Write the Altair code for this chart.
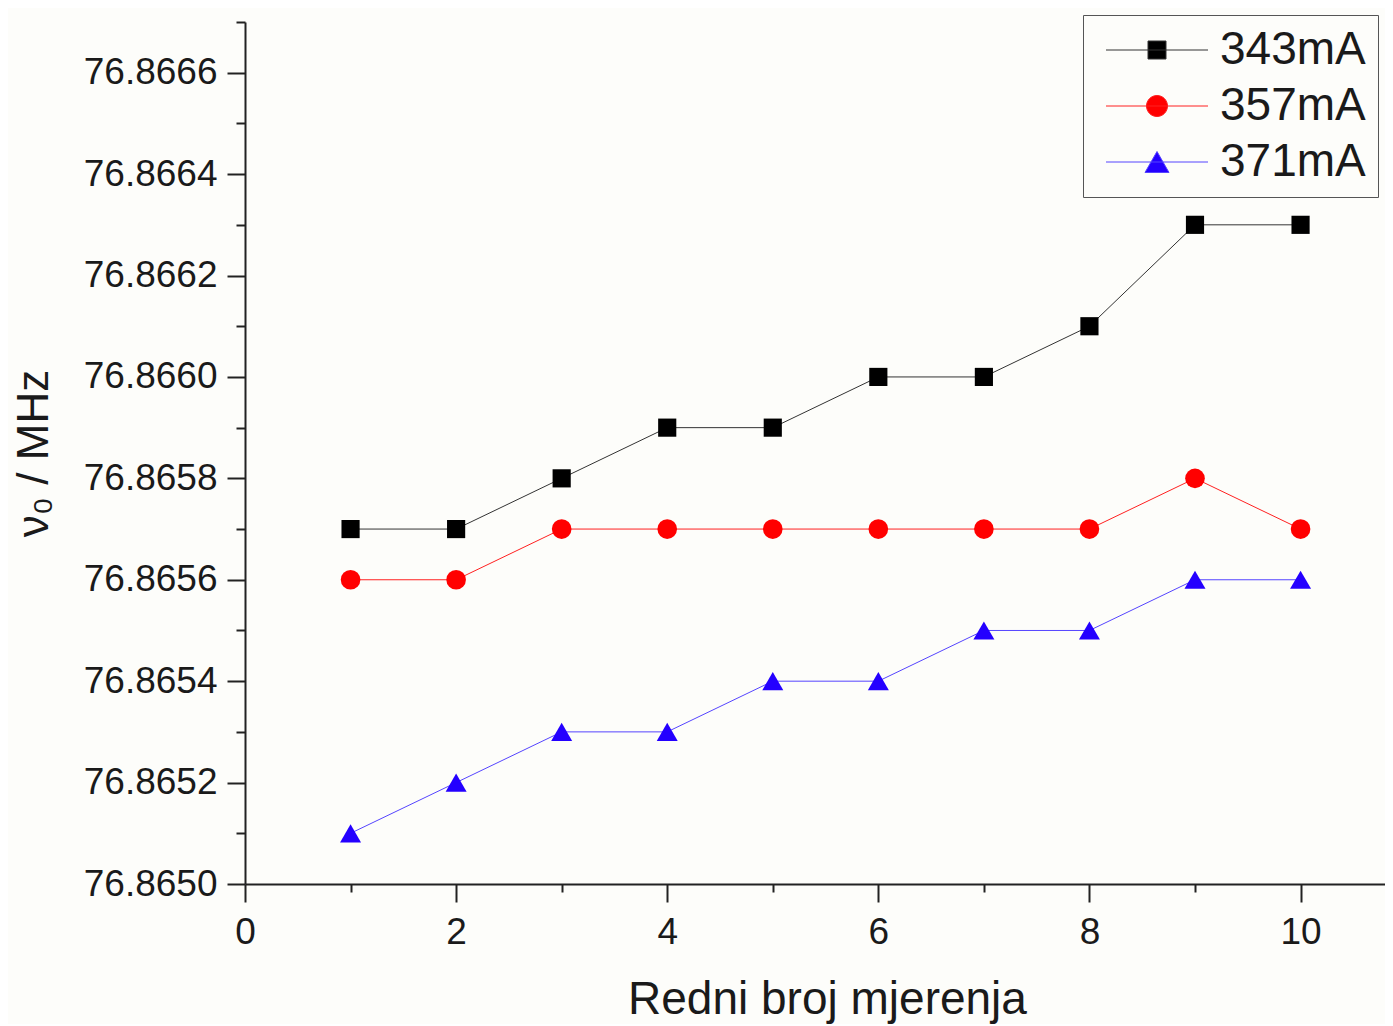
import altair as alt
import pandas as pd

measurement = [1, 2, 3, 4, 5, 6, 7, 8, 9, 10]
series_names = ["343mA", "357mA", "371mA"]
values_343 = [76.8657, 76.8657, 76.8658, 76.8659, 76.8659, 76.8660, 76.8660, 76.8661, 76.8663, 76.8663]
values_357 = [76.8656, 76.8656, 76.8657, 76.8657, 76.8657, 76.8657, 76.8657, 76.8657, 76.8658, 76.8657]
values_371 = [76.8651, 76.8652, 76.8653, 76.8653, 76.8654, 76.8654, 76.8655, 76.8655, 76.8656, 76.8656]
x_ticks = [0, 1, 2, 3, 4, 5, 6, 7, 8, 9, 10]
y_ticks = [76.8650, 76.8651, 76.8652, 76.8653, 76.8654, 76.8655, 76.8656, 76.8657, 76.8658,
           76.8659, 76.8660, 76.8661, 76.8662, 76.8663, 76.8664, 76.8665, 76.8666, 76.8667]

marker_colors = ["#000000", "#ff0000", "#2400ff"]
line_colors = ["#333333", "#ff2020", "#5544ff"]
shapes = ["square", "circle", "triangle-up"]
marker_sizes = [330, 441, 625]
# legend glyphs: a line with the series marker in its middle (unit coordinates)
legend_glyphs = [
    "M-5.1,0H5.1M-0.9,-0.9H0.9V0.9H-0.9Z",
    "M-5.1,0H5.1M-1.05,0A1.05,1.05 0 1,0 1.05,0A1.05,1.05 0 1,0 -1.05,0Z",
    "M-5.1,0H5.1M0,-1.05L1.2,1.05H-1.2Z",
]

rows = []
for name, vals in zip(series_names, [values_343, values_357, values_371]):
    for n, v in zip(measurement, vals):
        rows.append({"n": n, "v": v, "series": name})
df = pd.DataFrame(rows)

FONT = "Liberation Sans"
TXT = "#1a1a1a"

x_scale = alt.Scale(domain=[0, 10.8], nice=False, zero=False)
y_scale = alt.Scale(domain=[76.8650, 76.8667], nice=False, zero=False)

x_axis = alt.Axis(
    values=x_ticks,
    labelExpr="datum.value % 2 === 0 ? format(datum.value, 'd') : ''",
    tickSize={"condition": {"test": "datum.value % 2 === 0", "value": 18}, "value": 8},
    title="Redni broj mjerenja",
    labelPadding=12,
    labelFlush=False,
    titlePadding=27,
    titleX=582,
    titleAlign="center",
    titleFontSize=46,
)
y_axis = alt.Axis(
    values=y_ticks,
    labelExpr="round(datum.value*10000) % 2 === 0 ? format(datum.value, '.4f') : ''",
    tickSize={"condition": {"test": "round(datum.value*10000) % 2 === 0", "value": 18}, "value": 9},
    title="ν₀ / MHz",
    labelPadding=10,
    labelFlush=False,
    titlePadding=27,
)

legend = alt.Legend(
    title=None, orient="none", legendX=838, legendY=-7,
    labelFontSize=46, labelFont=FONT, labelColor=TXT,
    padding=12, rowPadding=10, labelLimit=400,
    symbolOffset=39, labelOffset=40,
    symbolSize=400, symbolStrokeWidth=1,
    strokeColor="#555555",
)

base = alt.Chart(df)

lines = base.mark_line(strokeWidth=1).encode(
    x=alt.X("n:Q", scale=x_scale, axis=x_axis),
    y=alt.Y("v:Q", scale=y_scale, axis=y_axis),
    stroke=alt.Stroke("series:N", scale=alt.Scale(domain=series_names, range=line_colors), legend=None),
)

points = base.mark_point(filled=True, opacity=1).encode(
    x=alt.X("n:Q", scale=x_scale),
    y=alt.Y("v:Q", scale=y_scale),
    fill=alt.Fill("series:N", scale=alt.Scale(domain=series_names, range=marker_colors), legend=None),
    shape=alt.Shape("series:N", scale=alt.Scale(domain=series_names, range=shapes), legend=None),
    size=alt.Size("series:N", scale=alt.Scale(domain=series_names, range=marker_sizes), legend=None),
)

legend_layer = (
    base.transform_filter("datum.n < 0")
    .mark_point(filled=True, opacity=1, strokeWidth=1)
    .encode(
        shape=alt.Shape("series:N", scale=alt.Scale(domain=series_names, range=legend_glyphs), legend=legend),
        fill=alt.Fill("series:N", scale=alt.Scale(domain=series_names, range=marker_colors), legend=legend),
        stroke=alt.Stroke("series:N", scale=alt.Scale(domain=series_names, range=line_colors), legend=legend),
    )
)

chart = (
    alt.layer(lines, points, legend_layer)
    .resolve_scale(shape="independent", fill="independent", stroke="independent")
    .properties(
        width=1140,
        height=862,
        autosize=alt.AutoSizeParams(type="none"),
        padding={"left": 237, "top": 14, "right": 0, "bottom": 140},
        background="#fdfdfa",
    )
    .configure_view(stroke=None)
    .configure_axis(
        grid=False,
        domainColor="#222222",
        domainWidth=2,
        tickColor="#222222",
        tickWidth=2,
        labelFont=FONT,
        labelFontSize=37,
        labelColor=TXT,
        titleFont=FONT,
        titleFontSize=44,
        titleFontWeight="normal",
        titleColor=TXT,
    )
)

chart.save("out.html", embed_options={"renderer": "svg", "actions": False})
